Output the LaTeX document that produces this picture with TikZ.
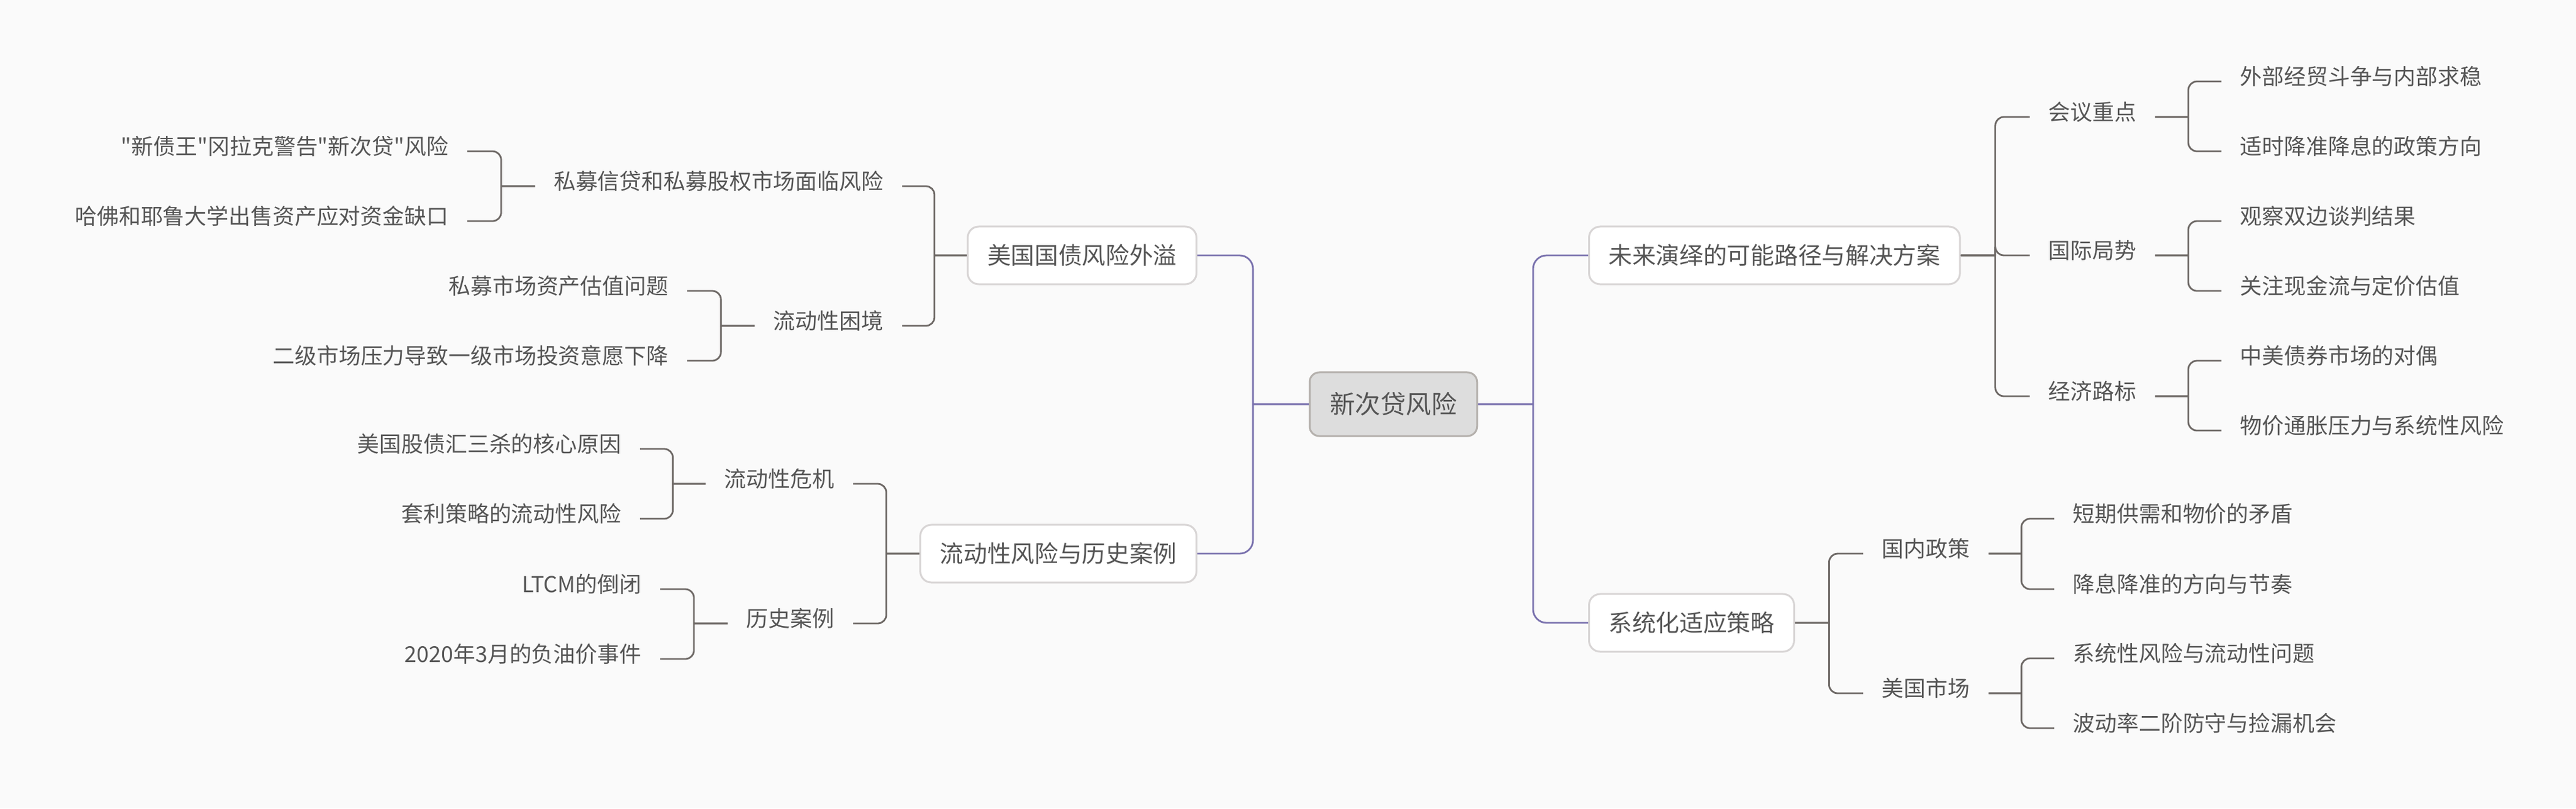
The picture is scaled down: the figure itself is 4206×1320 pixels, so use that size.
\documentclass[tikz,border=0pt]{standalone}
\usepackage{fontspec}
\newfontfamily\cjk{Noto Sans CJK SC}
\usetikzlibrary{calc}
\definecolor{bgcol}{HTML}{FAFAFA}
\definecolor{txtcol}{HTML}{555555}
\definecolor{linkcol}{HTML}{6E6966}
\definecolor{maincol}{HTML}{7A72AE}
\definecolor{boxline}{HTML}{D8D5D5}
\definecolor{rootfill}{HTML}{DDDDDD}
\definecolor{rootline}{HTML}{B5B1AD}

\begin{document}
\begin{tikzpicture}[
        x = 0.01cm, y = -0.01cm,
   root/.style = {draw=rootline, fill=rootfill, line width=0.03cm,
                  rounded corners=0.16cm, text=txtcol,
                  font=\cjk\fontsize{11.8}{14}\selectfont,
                  text height=10pt, text depth=1.2pt,
                  inner xsep=0.33cm, minimum height=1.04cm},
  topic/.style = {draw=boxline, fill=white, line width=0.03cm,
                  rounded corners=0.18cm, text=txtcol,
                  font=\cjk\fontsize{11}{13}\selectfont,
                  text height=9.35pt, text depth=1.1pt,
                  inner xsep=0.32cm, minimum height=0.94cm},
   leaf/.style = {text=txtcol, font=\cjk\fontsize{10.2}{12}\selectfont,
                  text height=8pt, text depth=4.8pt,
                  inner xsep=0.3cm, inner ysep=0pt},
mainlink/.style = {draw=maincol, line width=0.028cm, rounded corners=0.22cm},
   link/.style = {draw=linkcol, line width=0.028cm, rounded corners=0.14cm}
                        ]
% background
\fill[bgcol] (0,0) rectangle (4206,1320);
\useasboundingbox (0,0) rectangle (4206,1320);
% root and topics
\node[root] (root) at (2275,660) {新次贷风险};
\node[topic, anchor=west] (fut) at (2593,417) {未来演绎的可能路径与解决方案};
\node[topic, anchor=west] (sys) at (2593,1017) {系统化适应策略};
\node[topic, anchor=east] (usd) at (1955,417) {美国国债风险外溢};
\node[topic, anchor=east] (liq) at (1955,904) {流动性风险与历史案例};
% right branches
\node[leaf, anchor=west] (meet) at (3314,191) {会议重点};
\node[leaf, anchor=west] (intl) at (3314,417) {国际局势};
\node[leaf, anchor=west] (econ) at (3314,647) {经济路标};
\node[leaf, anchor=west] (meet1) at (3627,133) {外部经贸斗争与内部求稳};
\node[leaf, anchor=west] (meet2) at (3627,247) {适时降准降息的政策方向};
\node[leaf, anchor=west] (intl1) at (3627,361) {观察双边谈判结果};
\node[leaf, anchor=west] (intl2) at (3627,475) {关注现金流与定价估值};
\node[leaf, anchor=west] (econ1) at (3627,589) {中美债券市场的对偶};
\node[leaf, anchor=west] (econ2) at (3627,703) {物价通胀压力与系统性风险};
\node[leaf, anchor=west] (dom) at (3042,904) {国内政策};
\node[leaf, anchor=west] (usm) at (3042,1132) {美国市场};
\node[leaf, anchor=west] (dom1) at (3354,847) {短期供需和物价的矛盾};
\node[leaf, anchor=west] (dom2) at (3354,962) {降息降准的方向与节奏};
\node[leaf, anchor=west] (usm1) at (3354,1075) {系统性风险与流动性问题};
\node[leaf, anchor=west] (usm2) at (3354,1189) {波动率二阶防守与捡漏机会};
% left branches
\node[leaf, anchor=east] (pc) at (1473,304) {私募信贷和私募股权市场面临风险};
\node[leaf, anchor=east] (lq) at (1473,532) {流动性困境};
\node[leaf, anchor=east] (pc1) at (763,247) {"新债王"冈拉克警告"新次贷"风险};
\node[leaf, anchor=east] (pc2) at (763,361) {哈佛和耶鲁大学出售资产应对资金缺口};
\node[leaf, anchor=east] (lq1) at (1122,475) {私募市场资产估值问题};
\node[leaf, anchor=east] (lq2) at (1122,589) {二级市场压力导致一级市场投资意愿下降};
\node[leaf, anchor=east] (cr) at (1393,790) {流动性危机};
\node[leaf, anchor=east] (hc) at (1393,1018) {历史案例};
\node[leaf, anchor=east] (cr1) at (1045,733) {美国股债汇三杀的核心原因};
\node[leaf, anchor=east] (cr2) at (1045,847) {套利策略的流动性风险};
\node[leaf, anchor=east] (hc1) at (1078,962) {LTCM的倒闭};
\node[leaf, anchor=east] (hc2) at (1078,1076) {2020年3月的负油价事件};
% connectors, bar halfway between parent and child
\foreach \c in {fut,sys}
    \draw[mainlink] (root.east) -- ($(root.east)!0.5!(\c.west |- root.east)$) coordinate (bar)
                    (bar) |- (\c.west);
\foreach \c in {usd,liq}
    \draw[mainlink] (root.west) -- ($(root.west)!0.5!(\c.east |- root.west)$) coordinate (bar)
                    (bar) |- (\c.east);
\foreach \p/\kids in {fut/{meet,intl,econ}, sys/{dom,usm}, meet/{meet1,meet2},
                      intl/{intl1,intl2}, econ/{econ1,econ2}, dom/{dom1,dom2}, usm/{usm1,usm2}}
    \foreach \c in \kids
        \draw[link] (\p.east) -- ($(\p.east)!0.5!(\c.west |- \p.east)$) coordinate (bar)
                    (bar) |- (\c.west);
\foreach \p/\kids in {usd/{pc,lq}, liq/{cr,hc}, pc/{pc1,pc2}, lq/{lq1,lq2},
                      cr/{cr1,cr2}, hc/{hc1,hc2}}
    \foreach \c in \kids
        \draw[link] (\p.west) -- ($(\p.west)!0.5!(\c.east |- \p.west)$) coordinate (bar)
                    (bar) |- (\c.east);
\end{tikzpicture}
\end{document}
